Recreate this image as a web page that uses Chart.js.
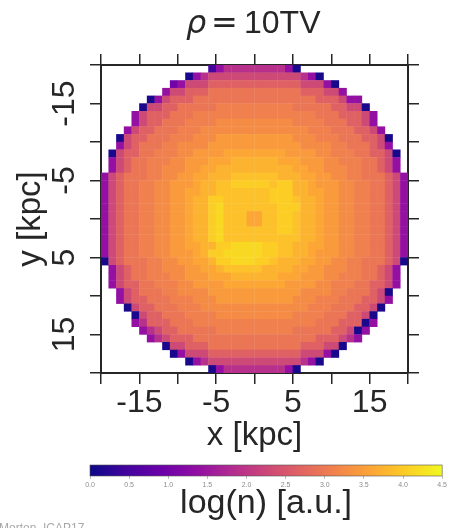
<!DOCTYPE html>
<html>
<head>
<meta charset="utf-8">
<script src="https://cdn.jsdelivr.net/npm/chart.js@4.4.1/dist/chart.umd.min.js"></script>
<style>
  body { margin: 0; background: #fff; width: 449px; height: 528px; overflow: hidden; position: relative; }
  #main { position: absolute; left: 0; top: 0; }
  #cbar { position: absolute; left: 0; top: 456px; }
  #credit { position: absolute; left: -1px; top: 521px; font: 12px "Liberation Sans", Arial, sans-serif; color: #a8a8a8; white-space: nowrap; }
</style>
</head>
<body>
<canvas id="main" width="449" height="460"></canvas>
<canvas id="cbar" width="449" height="72"></canvas>
<div id="credit">Morton, ICAP17</div>
<script>
// cell centres in kpc (40 x 40 grid, x left->right, y top->bottom)
const cellCenters = [-19.5, -18.5, -17.5, -16.5, -15.5, -14.5, -13.5, -12.5, -11.5, -10.5,
  -9.5, -8.5, -7.5, -6.5, -5.5, -4.5, -3.5, -2.5, -1.5, -0.5,
  0.5, 1.5, 2.5, 3.5, 4.5, 5.5, 6.5, 7.5, 8.5, 9.5,
  10.5, 11.5, 12.5, 13.5, 14.5, 15.5, 16.5, 17.5, 18.5, 19.5];

// log(n) per cell, coded by one character ('.' = no data)
const levelChars = '0123456789abcdef';
const levelValues = [0.1, 0.5, 1.0, 1.4, 1.9, 2.3, 2.65, 2.95, 3.1, 3.25, 3.45, 3.6, 3.75, 3.9, 4.05, 4.15];

const densityRows = [
  '..............134444444430..............',
  '...........034555555555555430...........',
  '.........2355566666666666655530.........',
  '........355666777777777777666553........',
  '......0356667777777777777777666533......',
  '.....055667777788888888887777766550.....',
  '....35666777888888888888888877766653....',
  '....35667778888999999999988887776653....',
  '...3566777888999999999999998887776653...',
  '..0566777888999aaaaaaaaaa9998887776650..',
  '..356777889999aaaaaaaaaaaa999988777653..',
  '.05667788899aaaabbbbbbbbaaaa99888776650.',
  '.3567788899aaabbbccccccbbbaaa9988877653.',
  '.3567788999aabbccccccccccbbaa9998877653.',
  '3567778899aabbcccddddddcccbbaa9988777653',
  '356778899aaabccddeeeeedeeccbaaa998877653',
  '356778899aabbccdddddddeeeccbbaa998877653',
  '356778899aabcceeddddddeeedccbaa998877653',
  '356778899aabccefdddddddeeeccbaa998877653',
  '356778899aabccefdddbbddeedccbaa998877653',
  '356778899aabccefdddbbddeedccbaa998877653',
  '356778899aabccefdddddddeedccbaa998877653',
  '356778899aabccefddddddddddccbaa998877653',
  '356778899aabbcceeffffeeddccbbaa998877653',
  '356778899aaabceefffffeeddccbaaa998877653',
  '0567778899aabbceefffeedcccbbaa9988777650',
  '.3567788999aabbcdddddccccbbaa9998877653.',
  '.3567788899aaabbbccccccbbbaaa9988877653.',
  '.35667788899aaaabbbbbbbbaaaa99888776653.',
  '..356777889999aaaaaaaaaaaa999988777650..',
  '..3566777888999aaaaaaaaaa9998887776653..',
  '...0566777888999999999999998887776650...',
  '....05667778888999999999988887776650....',
  '....34666777888888888888888877766603....',
  '.....345667777788888888887777766503.....',
  '......3456667777777777777777666543......',
  '........055666777777777777666550........',
  '.........0355566666666666655530.........',
  '...........034555555555555430...........',
  '..............034444444430..............'
];

const axisTicks = [-20, -15, -10, -5, 0, 5, 10, 15, 20];
const axisLabels = [-15, -5, 5, 15];
const colorbarTicks = [0, 0.5, 1, 1.5, 2, 2.5, 3, 3.5, 4, 4.5];
const cbMin = 0, cbMax = 4.5;

const plasmaStops = ['#0d0887', '#41049d', '#6a00a8', '#8f0da4', '#b12a90', '#cc4778',
  '#e16462', '#f2844b', '#fca636', '#fcce25', '#f0f921'];

function hexRgb(h) {
  return [parseInt(h.slice(1, 3), 16), parseInt(h.slice(3, 5), 16), parseInt(h.slice(5, 7), 16)];
}
function plasma(t) {
  t = Math.max(0, Math.min(1, t));
  const p = t * (plasmaStops.length - 1);
  const i = Math.min(plasmaStops.length - 2, Math.floor(p));
  const f = p - i;
  const a = hexRgb(plasmaStops[i]), b = hexRgb(plasmaStops[i + 1]);
  const c = a.map((v, k) => Math.round(v + (b[k] - v) * f));
  return 'rgb(' + c.join(',') + ')';
}

densityRows.forEach((row, i) => {
  if (row.length !== 40) throw new Error('row ' + i + ' has length ' + row.length);
});

const points = [];
const colors = [];
densityRows.forEach((row, r) => {
  for (let c = 0; c < row.length; c++) {
    const k = levelChars.indexOf(row[c]);
    if (k < 0) continue;
    points.push({ x: cellCenters[c], y: cellCenters[r] });
    colors.push(plasma((levelValues[k] - cbMin) / (cbMax - cbMin)));
  }
});

const ink = '#262626';
Chart.defaults.font.family = '"Liberation Sans", Arial, sans-serif';
Chart.defaults.color = ink;

function cellRadius(ctx) {
  const s = ctx.chart.scales.x;
  const w = Math.abs(s.getPixelForValue(1) - s.getPixelForValue(0));
  return isFinite(w) && w > 0 ? w / Math.SQRT2 + 0.3 : 5;
}

const setTicks = list => scale => { scale.ticks = list.map(v => ({ value: v })); };
const labelOf = v => axisLabels.includes(v) ? String(v) : '';

const frameGrid = { drawOnChartArea: false, tickLength: 11, color: ink, lineWidth: 1.5 };
const frameBorder = { color: ink, width: 2 };

const titlePlugin = {
  id: 'rhoTitle',
  afterDraw(chart) {
    const ctx = chart.ctx;
    ctx.save();
    ctx.fillStyle = ink;
    ctx.textBaseline = 'alphabetic';
    ctx.font = 'italic 32px "DejaVu Sans"';
    ctx.fillText('ρ', 186, 33);
    ctx.font = '32px "DejaVu Sans"';
    ctx.fillText('=', 211, 33);
    ctx.font = '32px "Liberation Sans"';
    ctx.fillText('10TV', 244, 33);
    ctx.restore();
  }
};

new Chart(document.getElementById('main'), {
  type: 'scatter',
  data: {
    datasets: [{
      data: points,
      backgroundColor: colors,
      pointStyle: 'rect',
      pointRadius: cellRadius,
      pointHoverRadius: cellRadius,
      borderWidth: 0
    }]
  },
  options: {
    responsive: false,
    animation: false,
    events: [],
    layout: { padding: 0, autoPadding: false },
    plugins: { legend: { display: false }, tooltip: { enabled: false } },
    scales: {
      x: {
        type: 'linear', position: 'bottom', min: -20, max: 20,
        afterBuildTicks: setTicks(axisTicks),
        ticks: { autoSkip: false, maxRotation: 0, padding: 0, font: { size: 32 }, callback: labelOf },
        grid: frameGrid, border: frameBorder,
        title: { display: true, text: 'x [kpc]', font: { size: 33 }, padding: { top: 0, bottom: 4 } },
        afterFit: s => { s.height = 87; }
      },
      y: {
        type: 'linear', position: 'left', min: -20, max: 20, reverse: true,
        afterBuildTicks: setTicks(axisTicks),
        ticks: { autoSkip: false, minRotation: 90, maxRotation: 90, crossAlign: 'center', padding: 2, font: { size: 32 }, callback: labelOf },
        grid: frameGrid, border: frameBorder,
        title: { display: true, text: 'y [kpc]', font: { size: 33 }, padding: { top: 11, bottom: 0 } },
        afterFit: s => { s.width = 101; }
      },
      x2: {
        type: 'linear', position: 'top', min: -20, max: 20,
        afterBuildTicks: setTicks(axisTicks),
        ticks: { display: false },
        grid: frameGrid, border: frameBorder,
        afterFit: s => { s.height = 65; }
      },
      y2: {
        type: 'linear', position: 'right', min: -20, max: 20, reverse: true,
        afterBuildTicks: setTicks(axisTicks),
        ticks: { display: false },
        grid: frameGrid, border: frameBorder,
        afterFit: s => { s.width = 41; }
      }
    }
  },
  plugins: [titlePlugin]
});

const gradientPlugin = {
  id: 'plasmaBar',
  beforeDatasetsDraw(chart) {
    const { left, right, top, bottom } = chart.chartArea;
    const ctx = chart.ctx;
    const g = ctx.createLinearGradient(left, 0, right, 0);
    plasmaStops.forEach((c, i) => g.addColorStop(i / (plasmaStops.length - 1), c));
    ctx.save();
    ctx.fillStyle = g;
    ctx.fillRect(left, top, right - left, bottom - top);
    ctx.strokeStyle = '#555';
    ctx.lineWidth = 0.6;
    ctx.strokeRect(left, top, right - left, bottom - top);
    ctx.restore();
  }
};

new Chart(document.getElementById('cbar'), {
  type: 'scatter',
  data: { datasets: [] },
  options: {
    responsive: false,
    animation: false,
    events: [],
    layout: { padding: { left: 90, right: 6, top: 9, bottom: 0 } },
    plugins: { legend: { display: false }, tooltip: { enabled: false } },
    scales: {
      x: {
        type: 'linear', min: cbMin, max: cbMax,
        afterBuildTicks: setTicks(colorbarTicks),
        ticks: { autoSkip: false, maxRotation: 0, padding: 2, font: { size: 7 }, color: '#8c8c8c', callback: v => v.toFixed(1) },
        grid: { drawOnChartArea: false, tickLength: 3, color: '#bbbbbb' },
        border: { display: false },
        title: { display: true, text: 'log(n) [a.u.]', font: { size: 34 }, padding: { top: 0, bottom: 4 } },
        afterFit: s => { s.height = 52; }
      },
      y: { display: false, min: 0, max: 1 }
    }
  },
  plugins: [gradientPlugin]
});
</script>
</body>
</html>
